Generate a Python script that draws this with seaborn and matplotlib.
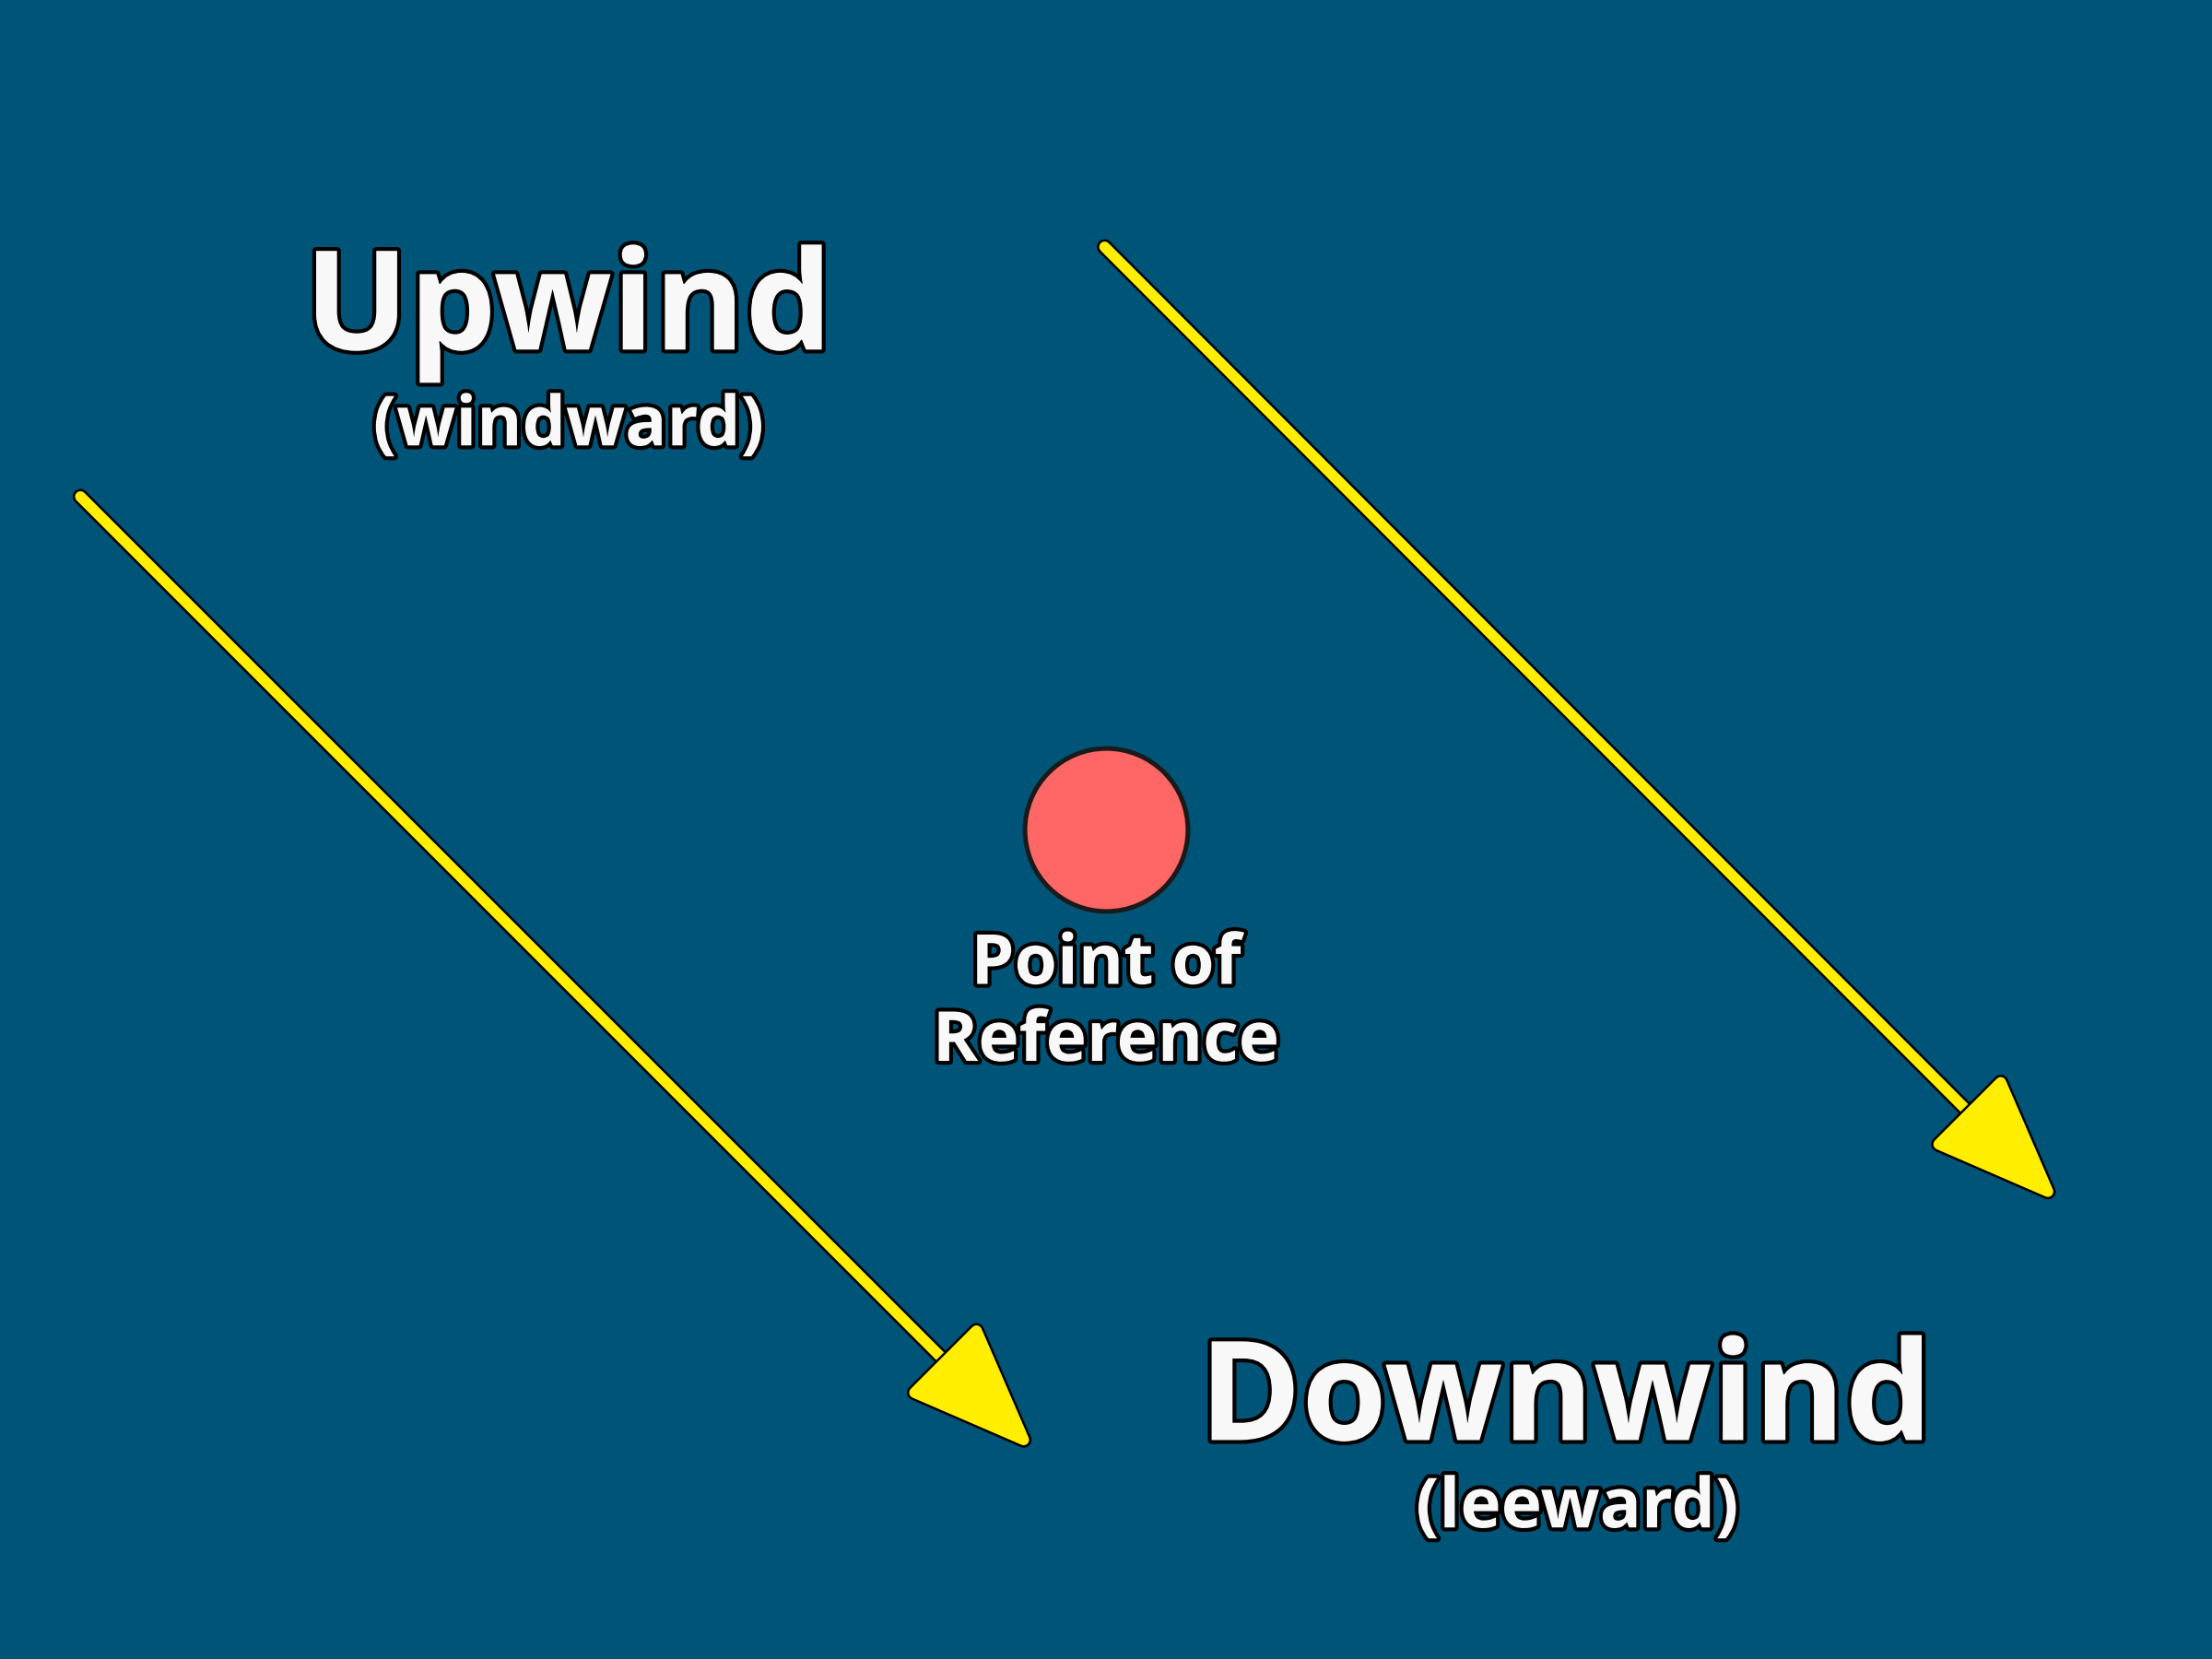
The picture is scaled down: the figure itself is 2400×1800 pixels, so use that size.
import matplotlib
matplotlib.use("Agg")
import matplotlib.pyplot as plt
import matplotlib.patheffects as pe
import seaborn as sns
import pandas as pd

# canvas coordinates (reference pixel space, 1568 x 1176)
arrow_start_x = [57, 783]
arrow_start_y = [352, 175]
arrow_end_x = [733, 1459]
arrow_end_y = [1028, 852]

point_x = [784]
point_y = [588]

labels = ["Upwind", "(windward)", "Point of\nReference", "Downwind", "(leeward)"]
label_x = [403, 403, 784, 1110, 1118]
label_y = [222, 303, 712, 995, 1070]
label_size = [36, 18, 18, 36, 18]

sns.set_theme(style="white")
plt.rcParams['font.family'] = ['Open Sans', 'DejaVu Sans']

bg = "#005477"
fig = plt.figure(figsize=(8, 6), dpi=300, facecolor=bg)
ax = fig.add_axes([0, 0, 1, 1], facecolor=bg)
ax.set_xlim(0, 1568)
ax.set_ylim(1176, 0)
ax.axis("off")

for x0, y0, x1, y1 in zip(arrow_start_x, arrow_start_y, arrow_end_x, arrow_end_y):
    ax.annotate("", xy=(x1, y1), xytext=(x0, y0),
                arrowprops=dict(arrowstyle="-|>,head_length=2.4,head_width=0.95",
                                lw=2.8, color="#FFEE00",
                                shrinkA=0, shrinkB=0,
                                path_effects=[pe.Stroke(linewidth=4.0, foreground="black"), pe.Normal()]))

df = pd.DataFrame({"x": point_x, "y": point_y})
sns.scatterplot(data=df, x="x", y="y", s=1800, color="#FF6666",
                edgecolor="#1a1a1a", linewidth=1.2, ax=ax, zorder=5)
ax.set_xlabel("")
ax.set_ylabel("")

for t, x, y, s in zip(labels, label_x, label_y, label_size):
    ax.text(x, y, t, ha="center", va="center", fontsize=s, fontweight="bold",
            color="#F8F8F8", linespacing=1.15,
            path_effects=[pe.withStroke(linewidth=2.0, foreground="black")])

fig.savefig("out.png", dpi=300, facecolor=bg)
